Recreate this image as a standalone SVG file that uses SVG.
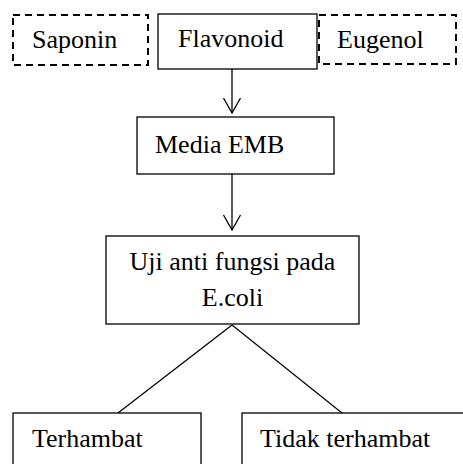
<svg xmlns="http://www.w3.org/2000/svg" width="463" height="464" viewBox="0 0 463 464">
<style>
.box{fill:#fff;stroke:#000;stroke-width:1.3}
.dash{fill:#fff;stroke:#000;stroke-width:2;stroke-dasharray:7 5}
.t{font-family:'Liberation Serif','Times New Roman','DejaVu Serif',serif;font-size:26px;fill:#000}
.c{fill:none;stroke:#000;stroke-width:1.3}
</style>
<defs>
<marker id="v" viewBox="0 0 20 20" refX="16" refY="10" markerWidth="20" markerHeight="20" markerUnits="userSpaceOnUse" orient="auto">
<path d="M1,1.5 L16,10 L1,18.5" fill="none" stroke="#000" stroke-width="1.3"/>
</marker>
</defs>
<rect width="463" height="464" fill="#fff"/>
<g id="saponin"><rect class="dash" x="13" y="15" width="135" height="50"/><text class="t" x="32" y="48">Saponin</text></g>
<g id="flavonoid"><rect class="box" x="158" y="14" width="159" height="55"/><text class="t" x="178" y="47">Flavonoid</text></g>
<g id="eugenol"><rect class="dash" x="319" y="15" width="137" height="49"/><text class="t" x="337" y="48">Eugenol</text></g>
<g id="media"><rect class="box" x="137" y="117" width="197" height="57"/><text class="t" x="155" y="153">Media EMB</text></g>
<g id="uji"><rect class="box" x="106" y="236" width="253" height="88"/><text class="t" x="232.5" y="270" text-anchor="middle">Uji anti fungsi pada</text><text class="t" x="232.5" y="306" text-anchor="middle">E.coli</text></g>
<g id="terhambat"><rect class="box" x="13" y="413" width="188" height="60"/><text class="t" x="32" y="447">Terhambat</text></g>
<g id="tidak"><rect class="box" x="242" y="413" width="230" height="60"/><text class="t" x="260" y="447">Tidak terhambat</text></g>
<g id="connectors">
<line class="c" x1="232" y1="69" x2="232" y2="113" marker-end="url(#v)"/>
<line class="c" x1="232" y1="174" x2="232" y2="230" marker-end="url(#v)"/>
<line class="c" x1="232" y1="325" x2="118" y2="413"/>
<line class="c" x1="232" y1="325" x2="342" y2="413"/>
</g>
</svg>
